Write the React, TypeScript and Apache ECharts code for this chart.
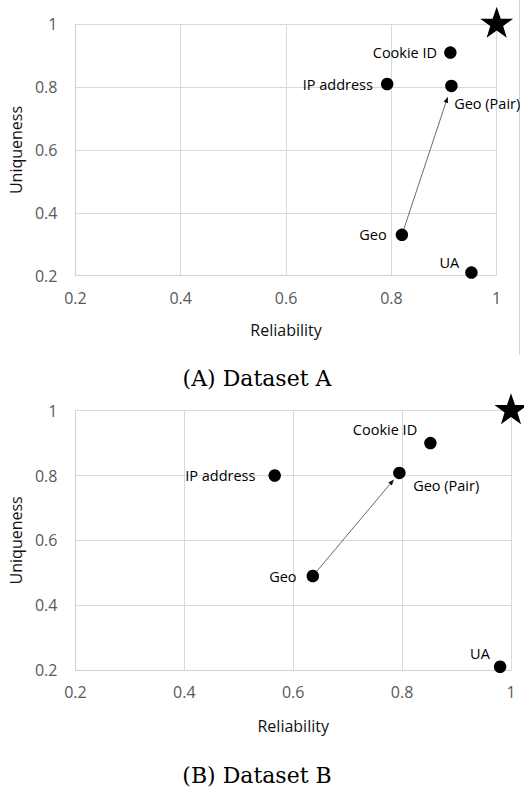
import React, { useEffect, useRef } from "react";
import * as echarts from "echarts";

const categories = ["Cookie ID", "IP address", "Geo (Pair)", "Geo", "UA"];
const reliabilityA = [0.912, 0.792, 0.914, 0.82, 0.952];
const uniquenessA = [0.91, 0.81, 0.804, 0.33, 0.21];
const reliabilityB = [0.852, 0.566, 0.795, 0.636, 0.98];
const uniquenessB = [0.9, 0.8, 0.808, 0.49, 0.21];
const idealPoint = [1, 1];
const axisMin = 0.2;
const axisMax = 1;
const axisStep = 0.2;
const titles = ["(A) Dataset A", "(B) Dataset B"];
const arrowFrom = "Geo";
const arrowTo = "Geo (Pair)";

const SANS = '"Open Sans", "Noto Sans", sans-serif';
const STAR =
  "path://M50,0 L61.8,35.3 L98.1,35.3 L68.8,57.1 L79.4,91.9 L50,70.6 L20.6,91.9 L31.2,57.1 L1.9,35.3 L38.2,35.3 Z";

type LabelCfg = { position: any; distance?: number; align?: string; verticalAlign?: string };

const layouts = [
  {
    grid: { left: 70.3, top: 24.3, width: 426.4, height: 251.4 },
    titleX: 257,
    titleY: 378,
    xNameGap: 46,
    yNameGap: 44,
    labels: [
      { position: "left", distance: 7 },
      { position: "left", distance: 8 },
      { position: [9, 24], align: "left", verticalAlign: "middle" },
      { position: "left", distance: 9 },
      { position: [-6, -4], align: "right", verticalAlign: "middle" },
    ] as LabelCfg[],
  },
  {
    grid: { left: 73, top: 410.7, width: 438, height: 259.3 },
    titleX: 257,
    titleY: 775,
    xNameGap: 48,
    yNameGap: 46,
    labels: [
      { position: [-7, -7], align: "right", verticalAlign: "middle" },
      { position: "left", distance: 13 },
      { position: [20, 19], align: "left", verticalAlign: "middle" },
      { position: "left", distance: 10 },
      { position: [-4, -7], align: "right", verticalAlign: "middle" },
    ] as LabelCfg[],
  },
];

const datasets = [
  { rel: reliabilityA, uni: uniquenessA },
  { rel: reliabilityB, uni: uniquenessB },
];

export default function App() {
  const ref = useRef<HTMLDivElement>(null);
  useEffect(() => {
    document.body.style.margin = "0";
    const chart = echarts.init(ref.current!, null, { renderer: "svg" });

    const grids: any[] = [];
    const xAxes: any[] = [];
    const yAxes: any[] = [];
    const series: any[] = [];
    const graphics: any[] = [];

    datasets.forEach((ds, k) => {
      const lay = layouts[k];
      grids.push({ ...lay.grid, containLabel: false });
      const common = {
        gridIndex: k,
        type: "value",
        min: axisMin,
        max: axisMax,
        interval: axisStep,
        nameLocation: "middle",
        nameTextStyle: { fontSize: 16, color: "#111", fontFamily: SANS },
        axisLine: { show: true, lineStyle: { color: "#d0d0d0", width: 1 } },
        axisTick: { show: false },
        splitLine: { show: true, lineStyle: { color: "#d9d9d9", width: 1 } },
      };
      xAxes.push({
        ...common,
        name: "Reliability",
        nameGap: lay.xNameGap,
        axisLabel: { color: "#595959", fontSize: 16, fontFamily: SANS, margin: 14 },
      });
      yAxes.push({
        ...common,
        name: "Uniqueness",
        nameGap: lay.yNameGap,
        nameRotate: 90,
        axisLabel: { color: "#595959", fontSize: 16, fontFamily: SANS, margin: 18 },
      });

      const iFrom = categories.indexOf(arrowFrom);
      const iTo = categories.indexOf(arrowTo);
      series.push({
        type: "custom",
        xAxisIndex: k,
        yAxisIndex: k,
        clip: false,
        data: [[ds.rel[iFrom], ds.uni[iFrom], ds.rel[iTo], ds.uni[iTo]]],
        encode: { x: [0, 2], y: [1, 3] },
        renderItem: (_p: any, api: any) => {
          const a = api.coord([api.value(0), api.value(1)]);
          const b = api.coord([api.value(2), api.value(3)]);
          const dx = b[0] - a[0];
          const dy = b[1] - a[1];
          const len = Math.hypot(dx, dy);
          const ux = dx / len;
          const uy = dy / len;
          const gap = k === 0 ? 11.5 : 8.5;
          const tip = [b[0] - ux * gap, b[1] - uy * gap];
          const head = 6;
          const half = 2.4;
          const base = [tip[0] - ux * head, tip[1] - uy * head];
          const l = [base[0] - uy * half, base[1] + ux * half];
          const r = [base[0] + uy * half, base[1] - ux * half];
          return {
            type: "group",
            children: [
              {
                type: "line",
                shape: { x1: a[0], y1: a[1], x2: base[0] + ux, y2: base[1] + uy },
                style: { stroke: "#444", lineWidth: 0.8 },
              },
              {
                type: "polygon",
                shape: { points: [tip, l, r] },
                style: { fill: "#111" },
              },
            ],
          };
        },
      });

      series.push({
        type: "scatter",
        xAxisIndex: k,
        yAxisIndex: k,
        symbol: "circle",
        symbolSize: 12.5,
        clip: false,
        itemStyle: { color: "#000", opacity: 1 },
        data: categories.map((name, i) => {
          const lc = lay.labels[i];
          return {
            name,
            value: [ds.rel[i], ds.uni[i]],
            label: {
              show: true,
              formatter: name,
              position: lc.position,
              distance: lc.distance ?? 5,
              align: lc.align,
              verticalAlign: lc.verticalAlign,
              color: "#000",
              fontSize: 14.5,
              fontFamily: SANS,
            },
          };
        }),
      });

      series.push({
        type: "scatter",
        xAxisIndex: k,
        yAxisIndex: k,
        symbol: STAR,
        symbolSize: [33, 31],
        symbolOffset: [0, -2],
        clip: false,
        itemStyle: { color: "#000", opacity: 1 },
        data: [idealPoint],
        z: 5,
      });

      graphics.push({
        type: "text",
        x: lay.titleX,
        y: lay.titleY,
        style: {
          text: titles[k],
          font: '22px "DejaVu Serif", serif',
          fill: "#000",
          align: "center",
          verticalAlign: "middle",
        },
      });
    });

    graphics.push({
      type: "line",
      shape: { x1: 519.5, y1: 0, x2: 519.5, y2: 355 },
      style: { stroke: "#d6d6d6", lineWidth: 1 },
    });

    chart.setOption({
      animation: false,
      backgroundColor: "#fff",
      grid: grids,
      xAxis: xAxes,
      yAxis: yAxes,
      series,
      graphic: graphics,
    });
    return () => chart.dispose();
  }, []);
  return (
    <div
      ref={ref}
      style={{ position: "absolute", left: 0, top: 0, width: 524, height: 789 }}
    />
  );
}
